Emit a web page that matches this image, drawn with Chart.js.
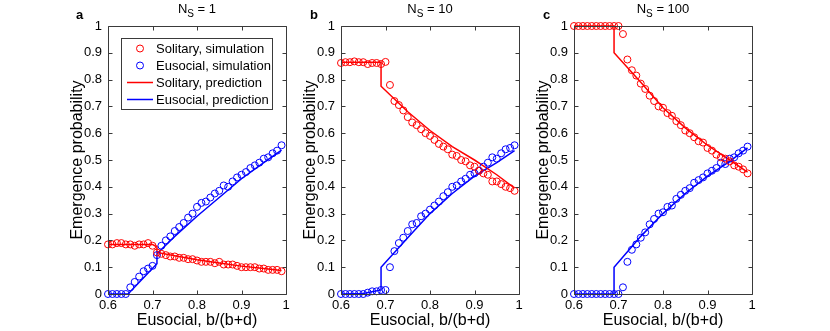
<!DOCTYPE html>
<html>
<head>
<meta charset="utf-8">
<script src="https://cdn.jsdelivr.net/npm/chart.js@4.4.0/dist/chart.umd.min.js"></script>
<style>
  body { margin: 0; background: #fff; width: 830px; height: 331px; position: relative; overflow: hidden; font-family: "Liberation Sans", Arial, sans-serif; }
  canvas { position: absolute; top: 0; }
  .ttl { position: absolute; top: 1px; width: 178px; text-align: center; font-size: 13px; line-height: 15px; color: #000; }
  .ttl sub { font-size: 10px; line-height: 0; vertical-align: -4px; }
  .lbl { position: absolute; top: 7px; font-size: 13px; line-height: 15px; font-weight: bold; color: #000; }
</style>
</head>
<body>
<canvas id="pa" width="250" height="331" style="left:46px"></canvas>
<canvas id="pb" width="250" height="331" style="left:279px"></canvas>
<canvas id="pc" width="250" height="331" style="left:512px"></canvas>
<div class="lbl" style="left:76px">a</div>
<div class="lbl" style="left:310px">b</div>
<div class="lbl" style="left:543px">c</div>
<div class="ttl" style="left:108px">N<sub>S</sub> = 1</div>
<div class="ttl" style="left:341px">N<sub>S</sub> = 10</div>
<div class="ttl" style="left:574px">N<sub>S</sub> = 100</div>
<script>
// b/(b+d) values of the simulation points
const simX = [0.60, 0.61, 0.62, 0.63, 0.64, 0.65, 0.66, 0.67, 0.68, 0.69,
              0.70, 0.71, 0.72, 0.73, 0.74, 0.75, 0.76, 0.77, 0.78, 0.79,
              0.80, 0.81, 0.82, 0.83, 0.84, 0.85, 0.86, 0.87, 0.88, 0.89,
              0.90, 0.91, 0.92, 0.93, 0.94, 0.95, 0.96, 0.97, 0.98, 0.99];

const xTickLabels = ['0.6', '0.7', '0.8', '0.9', '1'];
const yTickLabels = ['0', '0.1', '0.2', '0.3', '0.4', '0.5', '0.6', '0.7', '0.8', '0.9', '1'];
const seriesNames = ['Solitary, simulation', 'Eusocial, simulation', 'Solitary, prediction', 'Eusocial, prediction'];

// N_S = 1
const solSimA = [0.185, 0.185, 0.19, 0.19, 0.185, 0.185, 0.18, 0.185, 0.185, 0.19,
                 0.18, 0.155, 0.15, 0.145, 0.14, 0.14, 0.135, 0.135, 0.13, 0.13,
                 0.125, 0.12, 0.12, 0.12, 0.115, 0.12, 0.11, 0.11, 0.11, 0.105,
                 0.10, 0.10, 0.10, 0.10, 0.095, 0.095, 0.09, 0.09, 0.09, 0.085];
const euSimA = [0, 0, 0, 0, 0, 0.025, 0.045, 0.065, 0.085, 0.095,
                0.105, 0.145, 0.18, 0.20, 0.215, 0.235, 0.25, 0.265, 0.285, 0.30,
                0.325, 0.34, 0.345, 0.36, 0.375, 0.385, 0.405, 0.40, 0.42, 0.435,
                0.445, 0.455, 0.47, 0.48, 0.49, 0.505, 0.51, 0.525, 0.535, 0.555];
const solPredAx = [0.60, 0.70, 0.705, 0.71, 0.71, 0.75, 0.80, 0.85, 0.90, 0.95, 0.99];
const solPredAy = [0.185, 0.185, 0.18, 0.178, 0.155, 0.143, 0.128, 0.116, 0.104, 0.095, 0.088];
const euPredAx = [0.60, 0.645, 0.71, 0.71, 0.75, 0.80, 0.85, 0.90, 0.95, 0.99];
const euPredAy = [0, 0, 0.113, 0.15, 0.215, 0.29, 0.36, 0.43, 0.49, 0.537];

// N_S = 10
const solSimB = [0.862, 0.865, 0.865, 0.868, 0.865, 0.865, 0.858, 0.862, 0.862, 0.858,
                 0.866, 0.78, 0.72, 0.705, 0.685, 0.66, 0.64, 0.63, 0.615, 0.60,
                 0.59, 0.575, 0.56, 0.55, 0.54, 0.52, 0.515, 0.50, 0.495, 0.48,
                 0.475, 0.46, 0.45, 0.445, 0.42, 0.42, 0.41, 0.40, 0.395, 0.385];
const euSimB = [0, 0, 0, 0, 0, 0, 0.005, 0.01, 0.01, 0.015,
                0.015, 0.10, 0.16, 0.19, 0.21, 0.235, 0.26, 0.265, 0.29, 0.30,
                0.315, 0.33, 0.345, 0.365, 0.38, 0.40, 0.405, 0.42, 0.43, 0.445,
                0.45, 0.46, 0.475, 0.49, 0.51, 0.505, 0.525, 0.54, 0.545, 0.555];
const solPredBx = [0.60, 0.69, 0.69, 0.75, 0.80, 0.85, 0.90, 0.95, 0.99];
const solPredBy = [0.865, 0.865, 0.775, 0.68, 0.61, 0.55, 0.50, 0.445, 0.395];
const euPredBx = [0.60, 0.65, 0.69, 0.69, 0.75, 0.80, 0.85, 0.90, 0.95, 0.99];
const euPredBy = [0, 0.002, 0.015, 0.10, 0.21, 0.30, 0.375, 0.44, 0.49, 0.535];

// N_S = 100
const solSimC = [1, 1, 1, 1, 1, 1, 1, 1, 1, 1,
                 1, 0.97, 0.875, 0.835, 0.815, 0.785, 0.765, 0.74, 0.72, 0.70,
                 0.695, 0.675, 0.665, 0.645, 0.63, 0.61, 0.60, 0.585, 0.57, 0.565,
                 0.545, 0.535, 0.52, 0.51, 0.505, 0.495, 0.48, 0.475, 0.465, 0.45];
const euSimC = [0, 0, 0, 0, 0, 0, 0, 0, 0, 0,
                0, 0.025, 0.12, 0.165, 0.185, 0.21, 0.23, 0.26, 0.28, 0.30,
                0.305, 0.325, 0.33, 0.355, 0.37, 0.385, 0.395, 0.415, 0.425, 0.435,
                0.45, 0.46, 0.47, 0.49, 0.485, 0.505, 0.51, 0.525, 0.535, 0.55];
const solPredCx = [0.60, 0.69, 0.69, 0.75, 0.80, 0.85, 0.90, 0.95, 0.99];
const solPredCy = [1, 1, 0.90, 0.79, 0.695, 0.62, 0.555, 0.50, 0.455];
const euPredCx = [0.60, 0.69, 0.69, 0.75, 0.80, 0.85, 0.90, 0.95, 0.99];
const euPredCy = [0, 0, 0.10, 0.215, 0.30, 0.375, 0.44, 0.495, 0.545];

const RED = 'rgb(255,0,0)';
const BLUE = 'rgb(0,0,255)';
const FONT = '"Liberation Sans", Arial, sans-serif';

function pairs(xs, ys) {
  return xs.map((x, i) => ({ x: x, y: ys[i] }));
}

// box round the axes with inward ticks on all four sides, MATLAB style
const framePlugin = {
  id: 'frame',
  afterDraw(chart) {
    const { ctx, chartArea: a, scales: { x, y } } = chart;
    const L = Math.round(a.left) + 0.5, R = Math.round(a.right) + 0.5;
    const T = Math.round(a.top) + 0.5, B = Math.round(a.bottom) + 0.5;
    ctx.save();
    ctx.strokeStyle = '#3a3a3a';
    ctx.lineWidth = 1;
    ctx.beginPath();
    ctx.rect(L, T, R - L, B - T);
    x.ticks.forEach(t => {
      const px = Math.round(x.getPixelForValue(t.value)) + 0.5;
      ctx.moveTo(px, B); ctx.lineTo(px, B - 4);
      ctx.moveTo(px, T); ctx.lineTo(px, T + 4);
    });
    y.ticks.forEach(t => {
      const py = Math.round(y.getPixelForValue(t.value)) + 0.5;
      ctx.moveTo(L, py); ctx.lineTo(L + 4, py);
      ctx.moveTo(R, py); ctx.lineTo(R - 4, py);
    });
    ctx.stroke();
    ctx.restore();
  }
};

// boxed legend in the upper left of the first panel
const boxLegend = {
  id: 'boxLegend',
  afterDraw(chart) {
    if (!chart.options.plugins.boxLegend.show) return;
    const { ctx, chartArea: a } = chart;
    const left = a.left + 13, top = 38, w = 151, h = 71;
    ctx.save();
    ctx.fillStyle = '#fff';
    ctx.fillRect(left, top, w, h);
    ctx.strokeStyle = '#3a3a3a';
    ctx.lineWidth = 1;
    ctx.strokeRect(Math.round(left) + 0.5, top + 0.5, w, h);
    ctx.font = '13px ' + FONT;
    ctx.textBaseline = 'middle';
    ctx.fillStyle = '#000';
    chart.data.datasets.forEach((ds, i) => {
      const cy = top + 10.5 + i * 17;
      ctx.strokeStyle = ds.borderColor;
      if (ds.showLine) {
        ctx.lineWidth = 1.5;
        ctx.beginPath();
        ctx.moveTo(left + 6, cy); ctx.lineTo(left + 32, cy);
        ctx.stroke();
      } else {
        ctx.lineWidth = 1;
        ctx.beginPath();
        ctx.arc(left + 19, cy, 3.5, 0, Math.PI * 2);
        ctx.stroke();
      }
      ctx.fillText(ds.label, left + 35, cy + 1);
    });
    ctx.restore();
  }
};

function makePanel(id, solSim, euSim, solPx, solPy, euPx, euPy, showLegend) {
  const simStyle = { showLine: false, pointRadius: 3.5, pointHoverRadius: 3.5, pointBorderWidth: 1,
                     backgroundColor: 'rgba(0,0,0,0)', clip: false };
  const lineStyle = { showLine: true, pointRadius: 0, borderWidth: 1.5, clip: false, tension: 0 };
  new Chart(document.getElementById(id), {
    type: 'scatter',
    data: {
      datasets: [
        Object.assign({ label: seriesNames[0], data: pairs(simX, solSim), borderColor: RED, pointBorderColor: RED }, simStyle),
        Object.assign({ label: seriesNames[1], data: pairs(simX, euSim), borderColor: BLUE, pointBorderColor: BLUE }, simStyle),
        Object.assign({ label: seriesNames[2], data: pairs(solPx, solPy), borderColor: RED }, lineStyle),
        Object.assign({ label: seriesNames[3], data: pairs(euPx, euPy), borderColor: BLUE }, lineStyle)
      ]
    },
    options: {
      responsive: false,
      animation: false,
      events: [],
      layout: { padding: { left: 0, right: 10, top: 26, bottom: 0 } },
      plugins: {
        legend: { display: false },
        tooltip: { enabled: false },
        boxLegend: { show: showLegend }
      },
      scales: {
        x: {
          type: 'linear', min: 0.6, max: 1,
          grid: { display: false, drawTicks: false },
          border: { display: false },
          ticks: { stepSize: 0.1, padding: 4, color: '#000', font: { size: 13, family: FONT },
                   maxRotation: 0, callback: (v, i) => xTickLabels[i] },
          title: { display: true, text: 'Eusocial, b/(b+d)', color: '#000',
                   font: { size: 16, family: FONT }, padding: { top: 0, bottom: 1 } },
          afterFit: s => { s.height = 37; }
        },
        y: {
          type: 'linear', min: 0, max: 1,
          grid: { display: false, drawTicks: false },
          border: { display: false },
          ticks: { stepSize: 0.1, padding: 6, color: '#000', font: { size: 13, family: FONT },
                   callback: (v, i) => yTickLabels[i] },
          title: { display: true, text: 'Emergence probability', color: '#000',
                   font: { size: 16, family: FONT }, padding: { top: 22, bottom: 0 } },
          afterFit: s => { s.width = 62; }
        }
      }
    },
    plugins: [framePlugin, boxLegend]
  });
}

makePanel('pa', solSimA, euSimA, solPredAx, solPredAy, euPredAx, euPredAy, true);
makePanel('pb', solSimB, euSimB, solPredBx, solPredBy, euPredBx, euPredBy, false);
makePanel('pc', solSimC, euSimC, solPredCx, solPredCy, euPredCx, euPredCy, false);
</script>
</body>
</html>
